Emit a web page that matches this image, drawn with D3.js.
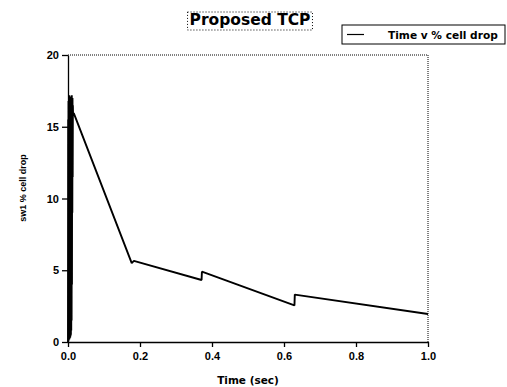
<!DOCTYPE html>
<html>
<head>
<meta charset="UTF-8">
<script src="https://d3js.org/d3.v7.min.js"></script>
<style>
  body { margin: 0; background: #fff; }
  text { font-family: "Liberation Sans", Arial, sans-serif; font-weight: bold; fill: #000; }
</style>
</head>
<body>
<div id="chart"></div>
<script>
// Datos
const burstTime  = [0.0000, 0.0005, 0.0010, 0.0015, 0.0020, 0.0025, 0.0030, 0.0035, 0.0040, 0.0045,
                    0.0050, 0.0055, 0.0060, 0.0065, 0.0070, 0.0075, 0.0080, 0.0085, 0.0090, 0.0095,
                    0.0100, 0.0105, 0.0110, 0.0115, 0.0120, 0.0125, 0.0130, 0.0135, 0.0140];
const burstValue = [0, 15.5, 0.1, 16.8, 0.1, 16.2, 0.2, 17.2, 0.2, 16.6,
                    0.3, 16.9, 0.3, 17.0, 0.4, 16.4, 0.5, 17.1, 0.8, 16.7,
                    1.5, 17.2, 4.0, 16.8, 9.0, 17.0, 11.5, 16.5, 15.9];
const mainTime   = [0.016, 0.177, 0.183, 0.371, 0.372, 0.629, 0.630, 1.0];
const mainValue  = [15.95, 5.5, 5.65, 4.32, 4.9, 2.55, 3.3, 1.95];
const xTicks = [0, 0.2, 0.4, 0.6, 0.8, 1.0];
const yTicks = [0, 5, 10, 15, 20];

const data = burstTime.map((t, i) => ({t, v: burstValue[i]}))
  .concat(mainTime.map((t, i) => ({t, v: mainValue[i]})));

const W = 507, H = 387;
const margin = {top: 55, right: 79, bottom: 45, left: 68};
const wide = "'DejaVu Sans', Verdana, sans-serif";

const svg = d3.select("#chart").append("svg")
  .attr("width", W).attr("height", H);

const x = d3.scaleLinear().domain([0, 1]).range([margin.left, W - margin.right]);
const y = d3.scaleLinear().domain([0, 20]).range([H - margin.bottom, margin.top]);

// Borde punteado superior y derecho
svg.append("path")
  .attr("d", `M${x(0)},${y(20)}H${x(1)}V${y(0)}`)
  .attr("fill", "none")
  .attr("stroke", "#000")
  .attr("stroke-width", 1)
  .attr("stroke-dasharray", "1 1");

// Ejes
const xAxis = svg.append("g")
  .attr("transform", `translate(0,${y(0)})`)
  .call(d3.axisBottom(x).tickValues(xTicks).tickFormat(d3.format(".1f")).tickSize(5).tickSizeOuter(0));
const yAxis = svg.append("g")
  .attr("transform", `translate(${x(0)},0)`)
  .call(d3.axisLeft(y).tickValues(yTicks).tickSize(6).tickSizeOuter(0));

[xAxis, yAxis].forEach(g => {
  g.select(".domain").attr("stroke", "#000").attr("stroke-width", 1.3);
  g.selectAll(".tick line").attr("stroke", "#000").attr("stroke-width", 1.3);
  g.selectAll(".tick text")
    .style("font-family", "'Liberation Sans', Arial, sans-serif")
    .style("font-weight", "bold")
    .style("font-size", "11px")
    .attr("fill", "#000");
});
xAxis.selectAll(".tick text").attr("dy", "0.9em");

// Titulos de ejes
svg.append("text")
  .attr("x", x(0.5)).attr("y", 384)
  .attr("text-anchor", "middle")
  .style("font-family", wide)
  .style("font-size", "10.5px")
  .text("Time (sec)");

svg.append("text")
  .attr("transform", `translate(26,${188}) rotate(-90)`)
  .attr("text-anchor", "middle")
  .style("font-size", "9px")
  .text("sw1 % cell drop");

// Titulo con recuadro punteado
const title = svg.append("text")
  .attr("x", 250).attr("y", 25)
  .attr("text-anchor", "middle")
  .style("font-family", wide)
  .style("font-size", "15.5px")
  .text("Proposed TCP");
const tb = title.node().getBBox();
svg.append("rect")
  .attr("x", tb.x - 2).attr("y", tb.y + 1)
  .attr("width", tb.width + 4).attr("height", tb.height)
  .attr("fill", "none")
  .attr("stroke", "#000")
  .attr("stroke-dasharray", "1 2");

// Linea de datos
const line = d3.line().x(d => x(d.t)).y(d => y(d.v));
svg.append("path")
  .datum(data)
  .attr("fill", "none")
  .attr("stroke", "#000")
  .attr("stroke-width", 1.9)
  .attr("stroke-linejoin", "bevel")
  .attr("d", line);

// Leyenda
const lg = svg.append("g").attr("transform", "translate(342,25)");
lg.append("rect")
  .attr("width", 163).attr("height", 19)
  .attr("fill", "#fff")
  .attr("stroke", "#000")
  .attr("stroke-width", 1);
lg.append("line")
  .attr("x1", 5).attr("x2", 22).attr("y1", 9.5).attr("y2", 9.5)
  .attr("stroke", "#000").attr("stroke-width", 1.2);
lg.append("text")
  .attr("x", 46).attr("y", 13.5)
  .style("font-family", wide)
  .style("font-size", "10.6px")
  .text("Time v % cell drop");
</script>
</body>
</html>
